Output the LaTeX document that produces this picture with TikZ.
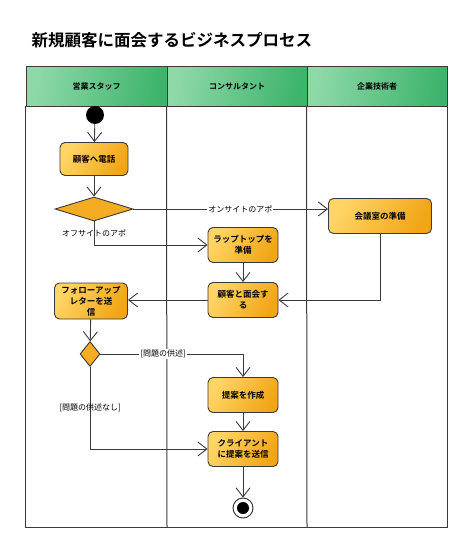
\documentclass[tikz,border=0pt]{standalone}
\usepackage{fontspec}
\setmainfont{Noto Sans CJK JP}[BoldFont={Noto Sans CJK JP Bold}]
\usetikzlibrary{arrows.meta,shapes.geometric}
\definecolor{actlight}{HTML}{FFD566}
\definecolor{actdark}{HTML}{F2A516}
\definecolor{lanelight}{HTML}{8FD9A9}
\definecolor{lanedark}{HTML}{3DB46C}
\definecolor{edgegray}{HTML}{3A3A3A}

\begin{document}
\begin{tikzpicture}[x=1pt, y=-1pt,
    act/.style={draw=edgegray, line width=0.9pt, rounded corners=5pt,
        left color=actlight, right color=actdark, shading angle=60,
        minimum height=35pt, align=center, inner sep=2pt,
        font=\bfseries\fontsize{8.5}{11}\selectfont},
    decide/.style={diamond, draw=edgegray, line width=0.9pt, fill=actdark!85!actlight, inner sep=0pt},
    lanehead/.style={draw=edgegray, line width=1pt, left color=lanelight, right color=lanedark,
        shading angle=80, minimum width=140pt, minimum height=40pt,
        font=\bfseries\fontsize{8}{10}\selectfont},
    flow/.style={-{Straight Barb[length=9pt,width=14pt,line width=0.9pt]}, draw=edgegray, line width=0.9pt},
    cond/.style={font=\fontsize{8}{10}\selectfont, inner sep=1pt}]
    \useasboundingbox (0,0) rectangle (474,554);

    % タイトル
    \node[anchor=west, font=\bfseries\fontsize{16.5}{20}\selectfont] (title) at (28,40) {新規顧客に面会するビジネスプロセス};

    % レーン
    \node[lanehead, minimum width=141pt] (hSales) at (96.5,86) {営業スタッフ};
    \node[lanehead] (hConsult) at (237,86) {コンサルタント};
    \node[lanehead] (hEng) at (377,86) {企業技術者};
    \draw[draw=edgegray, line width=1pt] (hSales.south west) rectangle (447,527);
    \draw[draw=edgegray, line width=1pt] (hConsult.south west) -- (167,527);
    \draw[draw=edgegray, line width=1pt] (hEng.south west) -- (307,527);

    % アクティビティ
    \node[circle, fill=black, minimum size=18pt, inner sep=0pt] (start) at (95,115) {};
    \node[act, minimum width=68pt, minimum height=33pt] (call) at (94,159) {顧客へ電話};
    \node[decide, minimum width=78pt, minimum height=24pt] (offer) at (94,209) {};
    \node[act, minimum width=103pt] (room) at (380,216) {会議室の準備};
    \node[act, minimum width=70pt] (laptop) at (243,245) {ラップトップを\\準備};
    \node[act, minimum width=70pt] (meet) at (243,300) {顧客と面会す\\る};
    \node[act, minimum width=73pt, minimum height=36pt] (letter) at (91,301) {フォローアップ\\レターを送\\信};
    \node[decide, minimum width=20pt, minimum height=25pt] (issue) at (90,354) {};
    \node[act, minimum width=70pt] (plan) at (243,395) {提案を作成};
    \node[act, minimum width=70pt] (send) at (243,449) {クライアント\\に提案を送信};
    \node[circle, draw=edgegray, line width=1pt, fill=white, minimum size=20pt, inner sep=0pt,
        path picture={\fill[black] (path picture bounding box.center) circle (6pt);}] (stop) at (243,508) {};

    % フロー
    \draw[flow] (start) -- (call);
    \draw[flow] (call) -- (offer);
    \draw[flow] (offer.east) -- node[cond, fill=white, pos=0.55] {オンサイトのアポ} (offer.east -| room.west);
    \draw[flow] (offer.south) |- node[cond, pos=0.25] {オフサイトのアポ} (laptop.west);
    \draw[flow] (laptop) -- (meet);
    \draw[flow] (room.south) |- (meet.east);
    \draw[flow] (meet.west) -- (meet.west -| letter.east);
    \draw[flow] (letter) -- (issue);
    \draw[flow] (issue.east) -| node[cond, fill=white, pos=0.22] {[問題の供述]} (plan.north);
    \draw[flow] (plan) -- (send);
    \draw[flow] (issue.south) |- node[cond, pos=0.25] {[問題の供述なし]} (send.west);
    \draw[flow] (send) -- (stop);
\end{tikzpicture}
\end{document}
